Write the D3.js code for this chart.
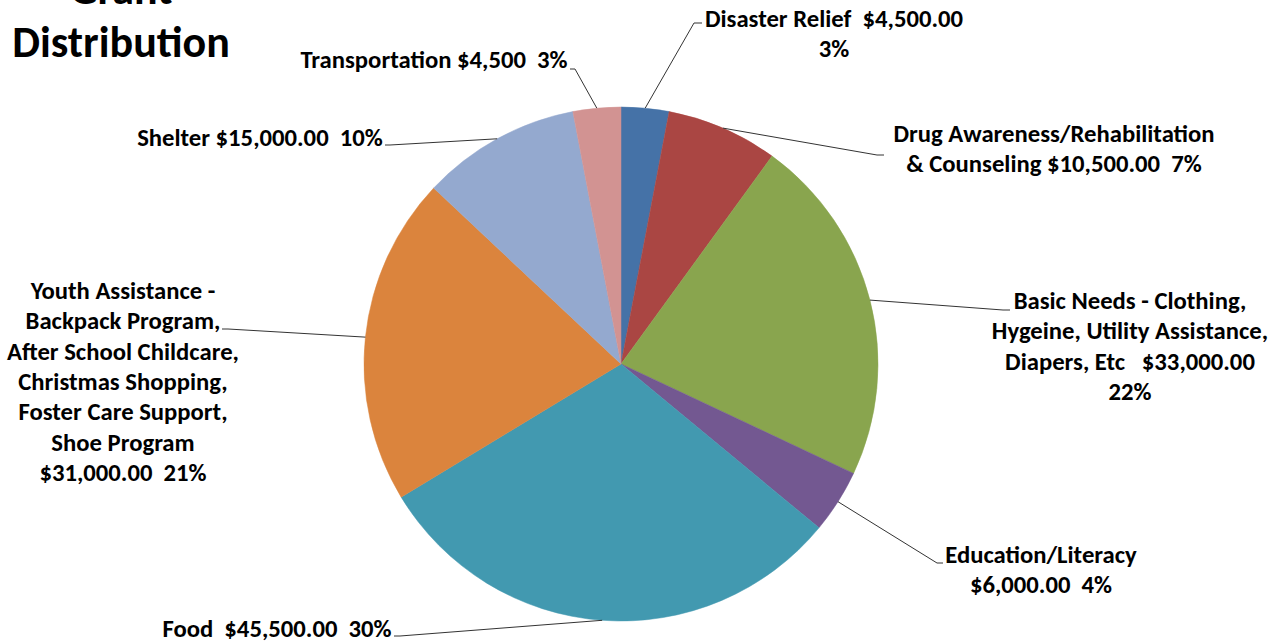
<!DOCTYPE html>
<html>
<head>
<meta charset="utf-8">
<script src="https://cdn.jsdelivr.net/npm/d3@7/dist/d3.min.js"></script>
<style>
  html, body { margin: 0; padding: 0; background: #ffffff; }
  svg { display: block; }
  text { font-family: Carlito, Lato, "Open Sans", sans-serif; font-weight: 700; fill: #000; }
</style>
</head>
<body>
<svg id="chart" width="1270" height="644"></svg>
<script>
// ---- data ----
const categories = [
  "Disaster Relief",
  "Drug Awareness/Rehabilitation & Counseling",
  "Basic Needs - Clothing, Hygeine, Utility Assistance, Diapers, Etc",
  "Education/Literacy",
  "Food",
  "Youth Assistance - Backpack Program, After School Childcare, Christmas Shopping, Foster Care Support, Shoe Program",
  "Shelter",
  "Transportation"
];
const values = [4500, 10500, 33000, 6000, 45500, 31000, 15000, 4500];
const labelLines = [
  ["Disaster Relief  $4,500.00", "3%"],
  ["Drug Awareness/Rehabilitation", "& Counseling $10,500.00  7%"],
  ["Basic Needs - Clothing,", "Hygeine, Utility Assistance,", "Diapers, Etc   $33,000.00", "22%"],
  ["Education/Literacy", "$6,000.00  4%"],
  ["Food  $45,500.00  30%"],
  ["Youth Assistance -", "Backpack Program,", "After School Childcare,", "Christmas Shopping,", "Foster Care Support,", "Shoe Program", "$31,000.00  21%"],
  ["Shelter $15,000.00  10%"],
  ["Transportation $4,500  3%"]
];
const titleLines = ["Grant", "Distribution"];

// ---- style / layout ----
const colors = ["#4572A7", "#AA4643", "#89A54E", "#735891", "#4299B0", "#DB843D", "#94A9CF", "#D29392"];
const cx = 621, cy = 364, radius = 257;
const fontSize = 24.7, lineH = 30.3;
// label block: center x, first baseline y, leader elbow and end
const labelLayout = [
  { x: 834,  y: 27,  elbow: [694, 23],  end: [702, 23] },
  { x: 1054, y: 142, elbow: [877, 155], end: [884, 155] },
  { x: 1130, y: 309, elbow: [1003, 310], end: [1010, 310] },
  { x: 1041, y: 563, elbow: [937, 563], end: [943, 563] },
  { x: 277,  y: 637, elbow: [400, 636], end: [394, 636] },
  { x: 123,  y: 299, elbow: [228, 329], end: [222, 329] },
  { x: 260,  y: 146, elbow: [390, 145], end: [385, 145] },
  { x: 434,  y: 68,  elbow: [575, 69],  end: [570, 69] }
];

const svg = d3.select("#chart");

const pie = d3.pie().sort(null).value(d => d).startAngle(0).endAngle(2 * Math.PI);
const arcs = pie(values);
const arc = d3.arc().innerRadius(0).outerRadius(radius);

const g = svg.append("g").attr("transform", `translate(${cx},${cy})`);
g.selectAll("path.slice")
  .data(arcs)
  .join("path")
  .attr("class", "slice")
  .attr("d", arc)
  .attr("fill", (d, i) => colors[i])
  .attr("stroke", (d, i) => colors[i])
  .attr("stroke-width", 0.5);

// leader lines
const line = d3.line();
svg.append("g").selectAll("path.leader")
  .data(arcs)
  .join("path")
  .attr("class", "leader")
  .attr("fill", "none")
  .attr("stroke", "#333")
  .attr("stroke-width", 1)
  .attr("d", (d, i) => {
    const a = (d.startAngle + d.endAngle) / 2;
    const p0 = [cx + radius * Math.sin(a), cy - radius * Math.cos(a)];
    const L = labelLayout[i];
    return line([p0, L.elbow, L.end]);
  });

// labels
const lg = svg.append("g");
labelLines.forEach((lines, i) => {
  const L = labelLayout[i];
  const t = lg.append("text")
    .attr("text-anchor", "middle")
    .attr("font-size", fontSize);
  lines.forEach((s, j) => {
    t.append("tspan")
      .attr("x", L.x)
      .attr("y", L.y + j * lineH)
      .attr("xml:space", "preserve")
      .style("white-space", "pre")
      .text(s);
  });
});

// title
const tt = svg.append("text").attr("text-anchor", "middle").attr("font-size", 44);
titleLines.forEach((s, j) => {
  tt.append("tspan").attr("x", 121).attr("y", 4 + j * 53).text(s);
});
</script>
</body>
</html>
